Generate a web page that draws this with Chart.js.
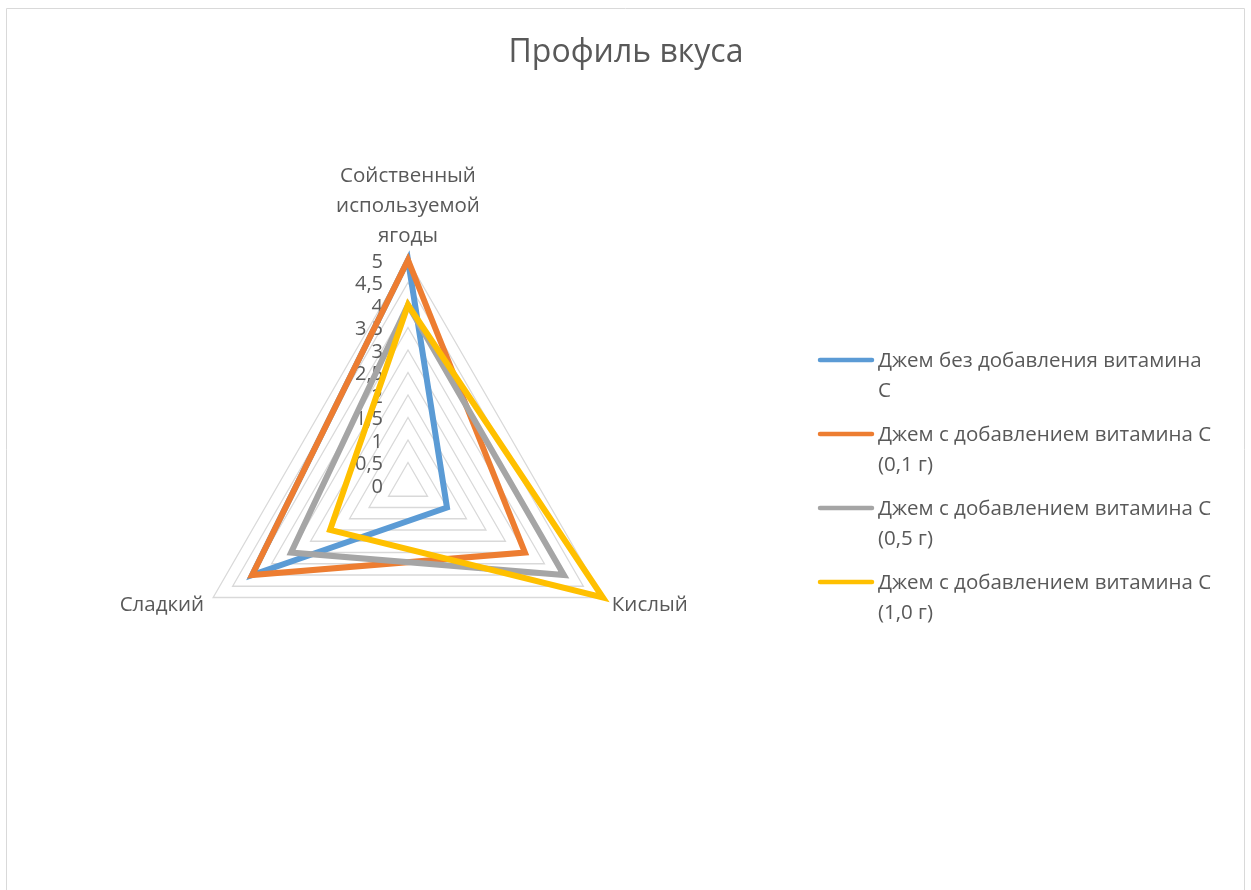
<!DOCTYPE html>
<html>
<head>
<meta charset="utf-8">
<script src="https://cdn.jsdelivr.net/npm/chart.js@4"></script>
<style>
  html, body { margin: 0; padding: 0; background: #fff; }
  #wrap { width: 1251px; height: 890px; }
</style>
</head>
<body>
<div id="wrap"><canvas id="tasteChart" width="1251" height="890"></canvas></div>
<script>
const titleText = 'Профиль вкуса';
const categories = [
    ['Сойственный', 'используемой', 'ягоды'],
    'Кислый',
    'Сладкий'
];
const seriesNames = [
    ['Джем без добавления витамина', 'С'],
    ['Джем с добавлением витамина С', '(0,1 г)'],
    ['Джем с добавлением витамина С', '(0,5 г)'],
    ['Джем с добавлением витамина С', '(1,0 г)']
];
const noVitamin = [5, 1, 4];
const vitamin01 = [5, 3, 4];
const vitamin05 = [4, 4, 3];
const vitamin10 = [4, 5, 2];
const colors = ['#5B9BD5', '#ED7D31', '#A5A5A5', '#FFC000'];
const tickValues = [0, 0.5, 1, 1.5, 2, 2.5, 3, 3.5, 4, 4.5, 5];

const textColor = '#595959';
const fontFamily = '"Open Sans", "Noto Sans", sans-serif';

// draws title, axis texts, legend and frame the way Excel lays them out
const excelBits = {
    id: 'excelBits',
    beforeDraw(chart) {
        const ctx = chart.ctx;
        ctx.save();
        ctx.strokeStyle = '#d9d9d9';
        ctx.lineWidth = 1;
        ctx.beginPath();
        ctx.moveTo(6.5, 900);
        ctx.lineTo(6.5, 8.5);
        ctx.lineTo(1244.5, 8.5);
        ctx.lineTo(1244.5, 900);
        ctx.stroke();
        ctx.restore();
    },
    beforeDatasetsDraw(chart) {
        const ctx = chart.ctx;
        const r = chart.scales.r;
        ctx.save();
        ctx.fillStyle = textColor;

        // radial tick labels, right aligned left of the axis
        ctx.font = '20px ' + fontFamily;
        ctx.textAlign = 'right';
        ctx.textBaseline = 'middle';
        tickValues.forEach(v => {
            const y = r.yCenter - r.getDistanceFromCenterForValue(v);
            ctx.fillText(String(v).replace('.', ','), r.xCenter - 25, y + 2);
        });

        // point labels
        ctx.font = '20.5px ' + fontFamily;
        categories.forEach((label, i) => {
            const lines = Array.isArray(label) ? label : [label];
            const p = r.getPointPosition(i, r.drawingArea);
            if (i === 0) {
                ctx.textAlign = 'center';
                ctx.textBaseline = 'middle';
                lines.forEach((ln, k) => {
                    ctx.fillText(ln, p.x, p.y - 84 + k * 30);
                });
            } else {
                ctx.textAlign = p.x > r.xCenter ? 'left' : 'right';
                ctx.textBaseline = 'middle';
                ctx.fillText(lines[0], p.x + (p.x > r.xCenter ? 9 : -9), p.y + 8);
            }
        });
        ctx.restore();
    },
    afterDraw(chart) {
        const ctx = chart.ctx;
        ctx.save();
        ctx.fillStyle = textColor;
        ctx.font = '32px ' + fontFamily;
        ctx.textAlign = 'center';
        ctx.textBaseline = 'middle';
        ctx.fillText(titleText, 626, 53);

        // legend
        ctx.font = '20.5px ' + fontFamily;
        ctx.textAlign = 'left';
        chart.data.datasets.forEach((ds, i) => {
            const y = 360 + i * 74;
            ctx.strokeStyle = ds.borderColor;
            ctx.lineWidth = 4.5;
            ctx.lineCap = 'round';
            ctx.beginPath();
            ctx.moveTo(820, y);
            ctx.lineTo(872, y);
            ctx.stroke();
            ctx.fillStyle = textColor;
            ds.label.forEach((ln, k) => {
                ctx.fillText(ln, 878, y + 1 + k * 30);
            });
        });
        ctx.restore();
    }
};

const seriesData = [noVitamin, vitamin01, vitamin05, vitamin10];

new Chart(document.getElementById('tasteChart'), {
    type: 'radar',
    data: {
        labels: categories,
        datasets: seriesData.map((values, i) => ({
            label: seriesNames[i],
            data: values,
            order: seriesData.length - 1 - i, // later series on top, as in Excel
            borderColor: colors[i],
            backgroundColor: colors[i],
            borderWidth: 6,
            borderJoinStyle: 'miter',
            pointRadius: 0,
            pointHoverRadius: 0,
            fill: false,
            tension: 0
        }))
    },
    options: {
        responsive: false,
        animation: false,
        events: [],
        layout: {
            padding: { left: 183, right: 618, top: 260, bottom: 180 }
        },
        plugins: {
            legend: { display: false },
            title: { display: false },
            tooltip: { enabled: false }
        },
        scales: {
            r: {
                min: 0,
                max: 5,
                startAngle: 0,
                ticks: { display: false, stepSize: 0.5 },
                pointLabels: { display: false },
                angleLines: { display: false },
                grid: { color: '#d9d9d9', lineWidth: 1.3 }
            }
        }
    },
    plugins: [excelBits]
});
</script>
</body>
</html>
